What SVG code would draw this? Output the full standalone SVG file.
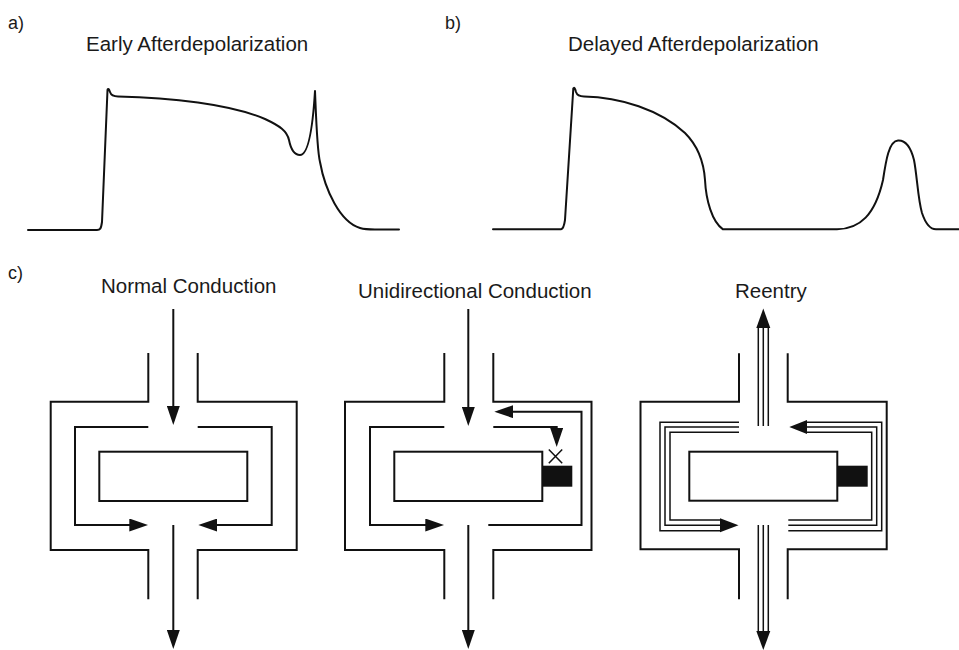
<svg xmlns="http://www.w3.org/2000/svg" width="959" height="650" viewBox="0 0 959 650">
  <style>
    .lbl { font-family: "Liberation Sans", Arial, sans-serif; font-size: 20.5px; fill: #1a1a1a; }
    .tag { font-family: "Liberation Sans", Arial, sans-serif; font-size: 18px; fill: #1a1a1a; }
    .trace { fill: none; stroke: #111; stroke-width: 2; stroke-linejoin: round; stroke-linecap: round; }
    .wall { fill: none; stroke: #111; stroke-width: 2; }
    .path { fill: none; stroke: #111; stroke-width: 2; }
    .thin { fill: none; stroke: #111; stroke-width: 1.5; }
    .block { fill: #111; }
    .head { fill: #111; }
  </style>
  <defs>
    <marker id="arrow" viewBox="0 0 19 13" refX="15" refY="6.5" markerWidth="19" markerHeight="13" markerUnits="userSpaceOnUse" orient="auto">
      <path d="M0,0 L19,6.5 L0,13 z" fill="#111"/>
    </marker>
  </defs>

  <!-- panel labels -->
  <text class="tag" x="8" y="29">a)</text>
  <text class="tag" x="445" y="29">b)</text>
  <text class="tag" x="8" y="279">c)</text>

  <!-- a) early afterdepolarization trace -->
  <g id="ead">
    <text class="lbl" x="86" y="51">Early Afterdepolarization</text>
    <path class="trace" d="M28,230 H97 C100,230 101,229 102,222 L107.5,90 C108,88 109,89 110,92 C111,95 113,96.5 118,96.5 C170,97.5 230,104 265,119 C280,126 287,131 289,140 C291,150 295,155 300,155 C306,155 312,140 315,91 C316,115 317,150 320,162 C325,190 340,222 360,228 C365,229.5 370,229.5 375,229.5 H399"/>
  </g>

  <!-- b) delayed afterdepolarization trace -->
  <g id="dad">
    <text class="lbl" x="568" y="51">Delayed Afterdepolarization</text>
    <path class="trace" d="M493,229.3 H561 C563,229 564,227 565,220 L573.3,88.5 C574,87 575,88 576,92 C577,95 579,96.5 584,96.5 C620,97 660,110 685,133 C700,148 704,165 705,180 C706,200 712,222 723,229.3 H837 C860,229 875,215 883,180 C886,160 889,141 898,140.5 C906,140 911,148 914,160 C917,175 918,200 922,213 C925,222 929,229.3 936,229.3 H959"/>
  </g>

  <!-- c1) normal conduction -->
  <g id="normal">
    <text class="lbl" x="101" y="293">Normal Conduction</text>
    <path class="wall" d="M148.3,353 V401.7 H50.7 V550 H148.3 V599.3"/>
    <path class="wall" d="M197.7,353 V401.7 H296.7 V550 H197.7 V599.3"/>
    <rect class="wall" x="99.3" y="451.7" width="148" height="49.3"/>
  </g>

  <!-- c2) unidirectional conduction -->
  <g id="unidirectional">
    <text class="lbl" x="358" y="298">Unidirectional Conduction</text>
    <path class="wall" d="M444.3,353 V401.7 H345 V550 H444.3 V599.3"/>
    <path class="wall" d="M493.3,353 V401.7 H591.5 V550 H493.3 V599.3"/>
    <rect class="wall" x="394.3" y="451.7" width="148" height="49.3"/>
    <rect class="block" x="542.3" y="465.7" width="30" height="21"/>
    <path class="thin" d="M548.8,449.5 L562.2,463.2 M562.2,449.5 L548.8,463.2" stroke-width="1.8"/>
  </g>

  <!-- c3) reentry -->
  <g id="reentry">
    <text class="lbl" x="735" y="298">Reentry</text>
    <path class="wall" d="M739,353.3 V401.7 H640.5 V549.3 H739 V599.3"/>
    <path class="wall" d="M787.7,353.3 V401.7 H886.7 V549.3 H787.7 V599.3"/>
    <rect class="wall" x="689.3" y="451.7" width="148" height="49"/>
    <rect class="block" x="837.3" y="465.7" width="30.4" height="21"/>
  </g>

  <!-- propagation paths -->
  <g id="connectors">
    <!-- normal -->
    <path class="path" d="M173.3,309 V421" marker-end="url(#arrow)"/>
    <path class="path" d="M148.3,427 H75 V525 H144.3" marker-end="url(#arrow)"/>
    <path class="path" d="M197.7,427 H271.7 V525 H202.3" marker-end="url(#arrow)"/>
    <path class="path" d="M173.3,525 V645" marker-end="url(#arrow)"/>

    <!-- unidirectional -->
    <path class="path" d="M468.3,309 V422" marker-end="url(#arrow)"/>
    <path class="path" d="M444.3,427 H370 V525 H440.3" marker-end="url(#arrow)"/>
    <path class="path" d="M493.3,427 H556.7 V443" marker-end="url(#arrow)"/>
    <path class="path" d="M488.3,525 H581.5 V411.7 H498.3" marker-end="url(#arrow)"/>
    <path class="path" d="M468.3,525 V645" marker-end="url(#arrow)"/>

    <!-- reentry: triple exit up -->
    <path class="thin" d="M758.3,426 V327 M763.3,426 V327 M768.3,426 V327"/>
    <polygon class="head" points="756.3,328 763.3,308.5 770.3,328"/>
    <!-- reentry: triple exit down -->
    <path class="thin" d="M758.3,525 V632 M763.3,525 V632 M768.3,525 V632"/>
    <polygon class="head" points="756.3,631 763.3,650 770.3,631"/>
    <!-- reentry: left loop -->
    <path class="thin" d="M739,422.3 H660 V530.7 H721"/>
    <path class="thin" d="M739,427 H665 V525.3 H721"/>
    <path class="thin" d="M739,432.3 H670 V520 H721"/>
    <polygon class="head" points="720,518.3 738.5,525.3 720,532.3"/>
    <!-- reentry: right loop -->
    <path class="thin" d="M806,422.3 H881.7 V530.7 H788.3"/>
    <path class="thin" d="M806,427 H876.7 V525.3 H788.3"/>
    <path class="thin" d="M806,432.3 H871.7 V520 H788.3"/>
    <polygon class="head" points="807,420 789.3,427 807,434"/>
  </g>
</svg>
